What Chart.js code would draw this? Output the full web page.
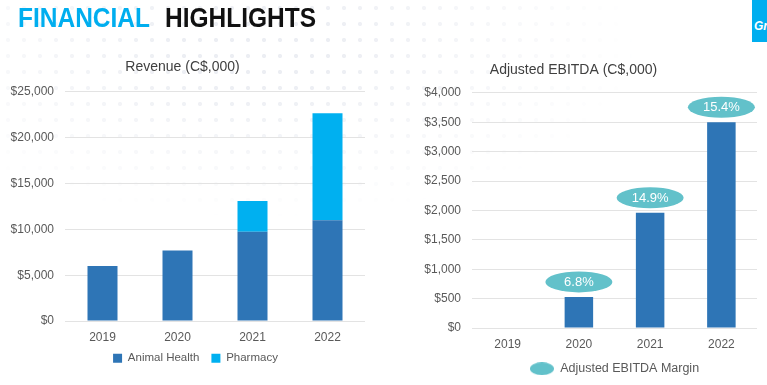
<!DOCTYPE html>
<html>
<head>
<meta charset="utf-8">
<script src="https://cdn.jsdelivr.net/npm/chart.js@4"></script>
<style>
  html, body { margin:0; padding:0; background:#ffffff; }
  body { width:767px; height:385px; position:relative; overflow:hidden; font-family:"Liberation Sans", Arial, sans-serif; }
  #dots { position:absolute; left:0; top:0; width:767px; height:385px;
    background-image: radial-gradient(circle, #eceef3 1.8px, rgba(255,255,255,0) 2.4px);
    background-size: 16px 16px;
    -webkit-mask-image: radial-gradient(ellipse 380px 170px at 260px 50px, rgba(0,0,0,1) 20%, rgba(0,0,0,0) 100%);
    mask-image: radial-gradient(ellipse 380px 170px at 260px 50px, rgba(0,0,0,1) 20%, rgba(0,0,0,0) 100%);
  }
  .hdr { position:absolute; top:2px; font-weight:bold; font-size:28px; line-height:32px; transform:scaleX(0.875); transform-origin:left top; white-space:nowrap; }
  #h1 { left:18px; color:#00AEEF; }
  #h2 { left:165px; color:#111111; }
  #corner { position:absolute; left:752px; top:0; width:15px; height:42px; background:#00AEEF; overflow:hidden; }
  #corner span { position:absolute; left:2px; top:19px; color:#fff; font-weight:bold; font-style:italic; font-size:12px; white-space:nowrap; }
  .wrap { position:absolute; top:55px; }
  #w1 { left:0; width:380px; height:332px; }
  #w2 { left:390px; width:377px; height:334px; }
</style>
</head>
<body>
<div id="dots"></div>
<div class="hdr" id="h1">FINANCIAL</div>
<div class="hdr" id="h2">HIGHLIGHTS</div>
<div id="corner"><span>Gr</span></div>
<div class="wrap" id="w1"><canvas id="c1"></canvas></div>
<div class="wrap" id="w2"><canvas id="c2"></canvas></div>
<script>
const years = ['2019', '2020', '2021', '2022'];
const animalHealth = [6000, 7700, 9750, 11000];
const pharmacy = [null, null, 3350, 11650];
const ebitda = [null, 530, 1960, 3500];
const ebitdaMargin = [null, 6.8, 14.9, 15.4];
const revenueMax = 25000, revenueStep = 5000;
const ebitdaMax = 4000, ebitdaStep = 500;

const DARK = '#2E75B6', LIGHT = '#00B0F0', TEAL = '#62C1CA';
const GRAY = '#595959', GRID = '#E3E3E3';
const FONT = '"Liberation Sans", Arial, sans-serif';

const money = v => '$' + Number(v).toLocaleString('en-US');

function commonScales(max, step, yWidth, xPad) {
  return {
    x: {
      stacked: true,
      grid: { display: false, drawTicks: false },
      border: { display: false },
      ticks: { color: GRAY, font: { family: FONT, size: 12 }, padding: xPad }
    },
    y: {
      stacked: true,
      min: 0, max: max,
      afterFit: s => { s.width = yWidth; },
      grid: { color: GRID, lineWidth: 1, drawTicks: false },
      border: { display: false },
      ticks: { stepSize: step, color: GRAY, font: { family: FONT, size: 12 }, padding: 11, callback: money }
    }
  };
}

function legendAdjust(dy, onPlot, dx) {
  return {
    id: 'legendAdjust',
    beforeDraw(chart) {
      const lg = chart.legend;
      if (!lg) return;
      if (onPlot) { lg.left = chart.chartArea.left; lg.right = chart.chartArea.right; }
      lg.top -= dy; lg.bottom -= dy;
      lg.left += (dx || 0); lg.right += (dx || 0);
    }
  };
}

new Chart(document.getElementById('c1'), {
  type: 'bar',
  data: {
    labels: years,
    datasets: [
      { label: 'Animal Health', data: animalHealth, backgroundColor: DARK, categoryPercentage: 1, barPercentage: 0.4 },
      { label: 'Pharmacy', data: pharmacy, backgroundColor: LIGHT, categoryPercentage: 1, barPercentage: 0.4 }
    ]
  },
  options: {
    responsive: true, maintainAspectRatio: false, animation: false,
    layout: { padding: { left: 0, right: 15, top: 0, bottom: 0 } },
    scales: commonScales(revenueMax, revenueStep, 65, 9),
    plugins: {
      title: { display: true, text: 'Revenue (C$,000)', color: '#404040', font: { family: FONT, size: 14, weight: 'normal' }, padding: { top: 4, bottom: 16 } },
      legend: { position: 'bottom', labels: { boxWidth: 9, boxHeight: 9, color: GRAY, font: { family: FONT, size: 11.5 }, padding: 12 } },
      tooltip: { enabled: false }
    }
  },
  plugins: [legendAdjust(13, false, 13)]
});

// ellipse marker for legend
const legendEllipse = document.createElement('canvas');
legendEllipse.width = 24; legendEllipse.height = 13;
(function () {
  const g = legendEllipse.getContext('2d');
  g.fillStyle = TEAL;
  g.beginPath(); g.ellipse(12, 6.5, 12, 6.5, 0, 0, Math.PI * 2); g.fill();
})();

const marginBubbles = {
  id: 'marginBubbles',
  afterDatasetsDraw(chart) {
    const ctx = chart.ctx;
    const meta = chart.getDatasetMeta(0);
    meta.data.forEach((bar, i) => {
      const m = ebitdaMargin[i];
      if (m == null) return;
      const cx = bar.x, cy = bar.y - 15;
      ctx.save();
      ctx.fillStyle = TEAL;
      ctx.beginPath();
      ctx.ellipse(cx, cy, 33.5, 10.5, 0, 0, Math.PI * 2);
      ctx.fill();
      ctx.fillStyle = '#ffffff';
      ctx.font = '13px ' + FONT;
      ctx.textAlign = 'center';
      ctx.textBaseline = 'middle';
      ctx.fillText(m.toFixed(1) + '%', cx, cy + 0.5);
      ctx.restore();
    });
  }
};

new Chart(document.getElementById('c2'), {
  type: 'bar',
  data: {
    labels: years,
    datasets: [
      { label: 'Adjusted EBITDA', data: ebitda, backgroundColor: DARK, categoryPercentage: 1, barPercentage: 0.4 }
    ]
  },
  options: {
    responsive: true, maintainAspectRatio: false, animation: false,
    layout: { padding: { left: 0, right: 10, top: 0, bottom: 1 } },
    scales: commonScales(ebitdaMax, ebitdaStep, 82, 9),
    plugins: {
      title: { display: true, text: 'Adjusted EBITDA (C$,000)', color: '#404040', font: { family: FONT, size: 14, weight: 'normal' }, padding: { top: 7, bottom: 14 } },
      legend: {
        position: 'bottom',
        labels: {
          usePointStyle: true, pointStyleWidth: 24, color: GRAY, font: { family: FONT, size: 12.5 }, padding: 5,
          generateLabels: () => [{ text: 'Adjusted EBITDA Margin', pointStyle: legendEllipse, fillStyle: TEAL, strokeStyle: TEAL, lineWidth: 0, hidden: false, datasetIndex: 0, fontColor: GRAY }]
        }
      },
      tooltip: { enabled: false }
    }
  },
  plugins: [marginBubbles, legendAdjust(3, true, 0)]
});
</script>
</body>
</html>
